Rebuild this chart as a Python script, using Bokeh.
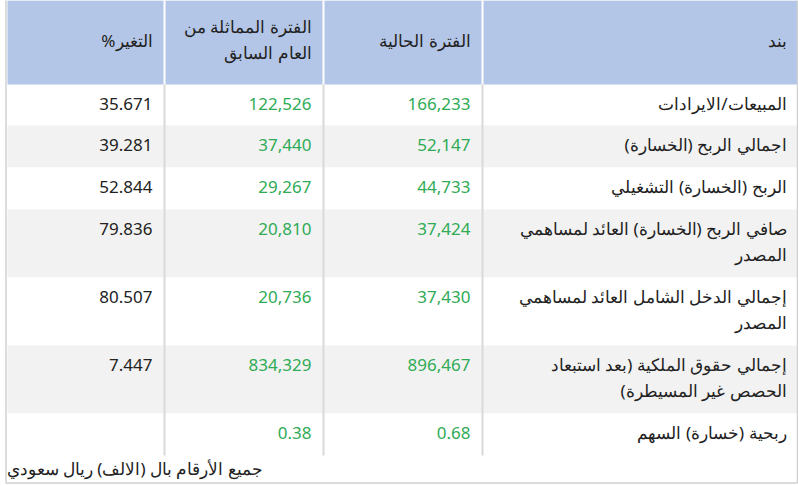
from bokeh.plotting import figure
from bokeh.models import Range1d, ColumnDataSource
from bokeh.core.properties import value
from bokeh.embed import file_html
from bokeh.resources import INLINE

# ---------------- data ----------------
headers = ["التغير%", "الفترة المماثلة من\nالعام السابق", "الفترة الحالية", "بند"]
items = [
    "المبيعات/الايرادات",
    "اجمالي الربح (الخسارة)",
    "الربح (الخسارة) التشغيلي",
    "صافي الربح (الخسارة) العائد لمساهمي\nالمصدر",
    "إجمالي الدخل الشامل العائد لمساهمي\nالمصدر",
    "إجمالي حقوق الملكية (بعد استبعاد\nالحصص غير المسيطرة)",
    "ربحية (خسارة) السهم",
]
current = [166233, 52147, 44733, 37424, 37430, 896467, 0.68]
previous = [122526, 37440, 29267, 20810, 20736, 834329, 0.38]
change = [35.671, 39.281, 52.844, 79.836, 80.507, 7.447, None]
footer = "جميع الأرقام بال (الالف) ريال سعودي"

# ---------------- styling / layout ----------------
RLM = "\u200f"
FONT = value("Noto Sans")
FS = "17px"
HEAD_BG = "#b4c6e7"
ALT_BG = "#f2f2f2"
TXT = "#222222"
GREEN = "#2fab55"
GRID = "#d9d9d9"

col_left = [7, 165, 324, 483]
col_right = [163, 322, 481, 797]
PAD = 11
HEAD_BOTTOM = 84
LINE_H = 26

W, H = 798, 486


def fmt_amount(v):
    if isinstance(v, int):
        return f"{v:,}"
    return f"{v:.2f}"


def fmt_change(v):
    return "" if v is None else f"{v:.3f}"


def rtl(s):
    return RLM + s + RLM


p = figure(width=W, height=H, output_backend="svg", toolbar_location=None,
           x_range=Range1d(0, W), y_range=Range1d(H, 0),
           min_border=0, outline_line_color=None, background_fill_color="white",
           border_fill_color="white")
p.axis.visible = False
p.grid.visible = False

# row geometry
row_top = []
row_bot = []
y = HEAD_BOTTOM
for i, it in enumerate(items):
    n = len(it.split("\n"))
    h = 16 + LINE_H * n - (1 if i == 0 else 0)
    row_top.append(y)
    row_bot.append(y + h)
    y += h
table_bottom = y

# backgrounds of body rows
bg_src = ColumnDataSource(dict(
    left=[col_left[0]] * len(items), right=[col_right[-1]] * len(items),
    top=row_top, bottom=row_bot,
    color=[ALT_BG if i % 2 == 1 else "white" for i in range(len(items))]))
p.quad(left="left", right="right", top="top", bottom="bottom", fill_color="color",
       line_color=None, source=bg_src)

# header cells
p.quad(left=col_left, right=col_right, top=[0] * 4, bottom=[HEAD_BOTTOM] * 4,
       fill_color=HEAD_BG, line_color=None)

# body vertical separators
for xr, xl in zip(col_right[:-1], col_left[1:]):
    xm = (xr + xl) / 2
    p.segment(x0=[xm], y0=[HEAD_BOTTOM], x1=[xm], y1=[table_bottom],
              line_color=GRID, line_width=2)

# outer border
p.quad(left=[5.5], right=[797], top=[-1], bottom=[482.5], fill_color=None,
       line_color="#d0d0d0", line_width=1.5)

# texts
tx, ty, tt, tc = [], [], [], []

# header
for ci, h in enumerate(headers):
    lines = h.split("\n")
    if len(lines) == 1:
        ys = [40]
    else:
        ys = [26 + LINE_H * k for k in range(len(lines))]
    for ln, yy in zip(lines, ys):
        tx.append(col_right[ci] - PAD); ty.append(yy); tt.append(rtl(ln)); tc.append(TXT)

# body
for ri in range(len(items)):
    y0 = row_top[ri] + 19
    tx.append(col_right[0] - PAD); ty.append(y0); tt.append(fmt_change(change[ri])); tc.append(TXT)
    tx.append(col_right[1] - PAD); ty.append(y0); tt.append(fmt_amount(previous[ri])); tc.append(GREEN)
    tx.append(col_right[2] - PAD); ty.append(y0); tt.append(fmt_amount(current[ri])); tc.append(GREEN)
    for k, ln in enumerate(items[ri].split("\n")):
        tx.append(col_right[3] - PAD); ty.append(y0 + LINE_H * k); tt.append(rtl(ln)); tc.append(TXT)

txt_src = ColumnDataSource(dict(x=tx, y=ty, text=tt, color=tc))
p.text(x="x", y="y", text="text", text_color="color", source=txt_src,
       text_align="right", text_baseline="middle", text_font=FONT, text_font_size=FS)

# footer (left aligned)
p.text(x=[6], y=[468], text=[rtl(footer)], text_color=TXT, text_align="left",
       text_baseline="middle", text_font=FONT, text_font_size=FS)

open("out.html", "w").write(file_html(p, INLINE))
